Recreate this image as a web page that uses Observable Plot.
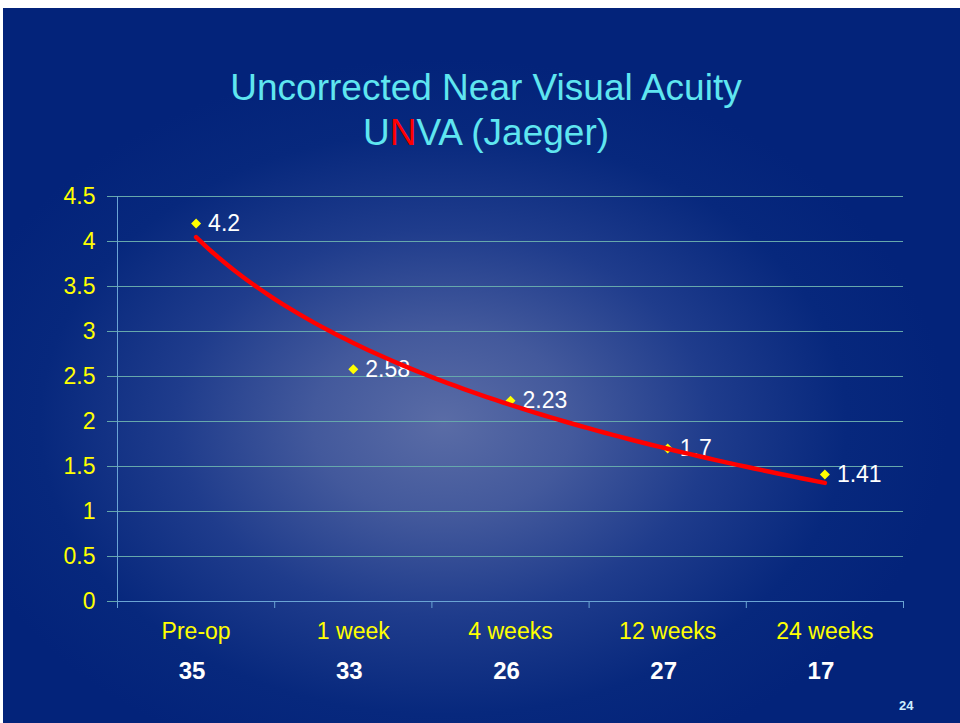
<!DOCTYPE html>
<html><head><meta charset="utf-8">
<script src="https://cdn.jsdelivr.net/npm/d3@7"></script>
<script src="https://cdn.jsdelivr.net/npm/@observablehq/plot@0.6"></script>
<style>
body{margin:0;background:#fff;width:960px;height:723px;overflow:hidden;position:relative;font-family:"Liberation Sans",Arial,sans-serif}
#slide{position:absolute;left:3px;top:8px;width:957px;height:715px;
 background:radial-gradient(ellipse 62% 60% at 46% 58%, #5a6ca6 0%, #43599c 22%, #1f3c8c 45%, #07287d 68%, #03237a 85%)}
#title{position:absolute;left:0;top:65px;width:972px;text-align:center;color:#5fe6f0;font-size:37px;line-height:45px}
#title .r{color:#ff0000}
#chart{position:absolute;left:0;top:160px}
#page{position:absolute;left:899px;top:698px;color:#cdefff;font-weight:bold;font-size:13px}
</style>
</head><body>
<div id="slide"></div>
<div id="title">Uncorrected Near Visual Acuity<br>U<span class="r">N</span>VA (Jaeger)</div>
<div id="chart"></div>
<div id="page">24</div>
<script>
const categories = ["Pre-op", "1 week", "4 weeks", "12 weeks", "24 weeks"];
const values = [4.2, 2.58, 2.23, 1.7, 1.41];
const valueLabels = ["4.2", "2.58", "2.23", "1.7", "1.41"];
const counts = ["35", "33", "26", "27", "17"];
const yTicks = [0, 0.5, 1, 1.5, 2, 2.5, 3, 3.5, 4, 4.5];

const data = categories.map((c, i) => ({cat: c, x: i + 0.5, v: values[i], label: valueLabels[i]}));

// Logarithmic trendline (least squares on ln(period index)) computed from the values
const lx = values.map((_, i) => Math.log(i + 1));
const mx = d3.mean(lx), my = d3.mean(values);
const a = d3.sum(lx.map((l, i) => (l - mx) * (values[i] - my))) / d3.sum(lx.map(l => (l - mx) ** 2));
const b = my - a * mx;
const trend = d3.range(0, 81).map(k => {
  const t = 1 + k * (values.length - 1) / 80;
  return {x: t - 0.5, v: a * Math.log(t) + b};
});

const gridColor = "#66a8ac";
const axisColor = "#6aa4d4";
const chart = Plot.plot({
  width: 960, height: 563,
  marginTop: 36, marginBottom: 122, marginLeft: 117, marginRight: 57,
  style: {background: "transparent", fontFamily: "'Liberation Sans', Arial, sans-serif", overflow: "visible"},
  x: {type: "linear", domain: [0, categories.length]},
  y: {domain: [0, 4.5]},
  marks: [
    Plot.gridY(yTicks, {stroke: gridColor, strokeOpacity: 1}),
    Plot.axisY({ticks: yTicks, tickSize: 10, tickPadding: 12, tickFormat: d => String(d), stroke: gridColor, fill: "#ffff00", fontSize: 23, label: null}),
    Plot.axisX({ticks: d3.range(categories.length + 1), tickSize: 7, text: null, stroke: axisColor, label: null}),
    Plot.ruleX([0], {y1: 4.5, y2: 0, stroke: axisColor, insetBottom: -7}),
    Plot.ruleY([0], {stroke: axisColor}),
    Plot.axisX({ticks: data.map(d => d.x), tickSize: 0, tickPadding: 21, tickFormat: v => categories[Math.floor(v)], fill: "#ffff00", fontSize: 23, label: null}),
    Plot.axisX({ticks: data.map(d => d.x), tickSize: 0, tickPadding: 60, tickFormat: v => counts[Math.floor(v)], fill: "#ffffff", fontSize: 24, fontWeight: "bold", label: null, dx: -4}),
    Plot.dot(data, {x: "x", y: "v", symbol: "diamond2", r: 4.5, fill: "#ffff00", stroke: "none"}),
    Plot.text(data, {x: "x", y: "v", text: "label", textAnchor: "start", dx: 12, fill: "#ffffff", fontSize: 23}),
    Plot.line(trend, {x: "x", y: "v", stroke: "#ff0000", strokeWidth: 4.5, curve: "natural"})
  ]
});
document.getElementById("chart").appendChild(chart);
</script>
</body></html>
